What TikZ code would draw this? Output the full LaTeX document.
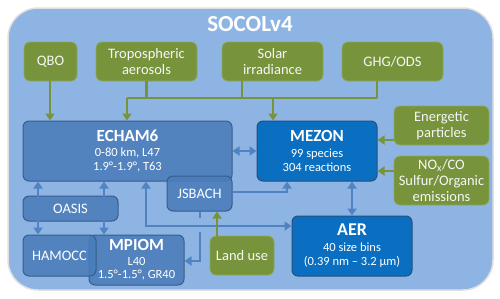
\documentclass[tikz,border=0pt]{standalone}
\usepackage{fontspec}
\setmainfont{Carlito}
\usetikzlibrary{arrows.meta}
\definecolor{bgblue}{HTML}{8EB4E3}
\definecolor{midblue}{HTML}{4A7DBB}
\definecolor{midborder}{HTML}{385D8A}
\definecolor{deepblue}{HTML}{0A6FC0}
\definecolor{deepborder}{HTML}{24507E}
\definecolor{ogreen}{HTML}{77933C}
\definecolor{gborder}{HTML}{8DA958}
\definecolor{arrowblue}{HTML}{4F83C2}
\newcommand\grtxt{\fontsize{14.5}{16}\selectfont}
\newcommand\smtxt{\fontsize{12.5}{14.5}\selectfont}
\newcommand\tttxt{\fontsize{17}{15}\selectfont\bfseries}
\begin{document}
\begin{tikzpicture}[x=1pt,y=-1pt,
  box/.style={rounded corners=6pt, inner sep=0pt, align=center, text=white},
  gbox/.style={box, fill=ogreen, draw=gborder, line width=0.8pt, text=white!94!gray, font=\grtxt},
  mbox/.style={box, fill=midblue, fill opacity=0.88, text opacity=1, draw=midborder, line width=1pt, font=\smtxt},
  dbox/.style={box, fill=deepblue, draw=deepborder, line width=1pt, font=\smtxt},
  gline/.style={draw=ogreen, line width=2.6pt},
  garrow/.style={gline, -{Triangle[width=9pt,length=7pt]}},
  bline/.style={draw=arrowblue, line width=2.6pt},
  barrow/.style={bline, -{Triangle[width=9pt,length=7pt]}},
  bdarrow/.style={bline, {Triangle[width=9pt,length=7pt]}-{Triangle[width=9pt,length=7pt]}}
]
\useasboundingbox (0,0) rectangle (500,298);
% background
\draw[draw=black!12, line width=1.5pt, fill=bgblue, rounded corners=30pt] (8,8) rectangle (493,290);
\node[font=\fontsize{23}{25}\selectfont\bfseries, text=white] (title) at (250,24) {SOCOLv4};

% green boxes
\node[gbox, minimum width=53pt, minimum height=39pt] (qbo) at (50.5,61.5) {QBO};
\node[gbox, minimum width=101pt, minimum height=39pt] (trop) at (146.5,61.5) {Tropospheric\\aerosols};
\node[gbox, minimum width=101pt, minimum height=39pt] (solar) at (272.5,61.5) {Solar\\irradiance};
\node[gbox, minimum width=101pt, minimum height=39pt] (ghg) at (392.5,61.5) {GHG/ODS};
\node[gbox, minimum width=95pt, minimum height=39pt] (energ) at (441.5,125.5) {Energetic\\particles};
\node[gbox, minimum width=95pt, minimum height=49pt] (nox) at (441.5,180.5) {NO\textsubscript{x}/CO\\Sulfur/Organic\\emissions};
\node[gbox, minimum width=64pt, minimum height=39pt] (land) at (242,255.5) {Land use};

% blue boxes
\node[mbox, minimum width=209pt, minimum height=60pt] (echam) at (127.5,151) {{\tttxt ECHAM6}\\0-80 km, L47\\1.9°-1.9°, T63};
\node[dbox, minimum width=120pt, minimum height=60pt] (mezon) at (317,151) {{\tttxt MEZON}\\[1pt]99 species\\304 reactions};
\node[dbox, minimum width=120pt, minimum height=60pt] (aer) at (352,246) {{\fontsize{18}{15}\selectfont\bfseries AER}\\[1pt]40 size bins\\(0.39 nm – 3.2 µm)};
\node[mbox, minimum width=95pt, minimum height=50pt, font=\fontsize{12.5}{13}\selectfont] (mpiom) at (136.5,260) {{\tttxt MPIOM}\\[2pt]L40\\1.5°-1.5°, GR40};
\node[mbox, minimum width=73pt, minimum height=41pt, font=\grtxt] (hamocc) at (59.5,255.5) {HAMOCC};
\node[mbox, minimum width=65pt, minimum height=35pt, font=\grtxt] (jsbach) at (199.5,193.5) {JSBACH};
\node[mbox, minimum width=95pt, minimum height=25pt, font=\grtxt] (oasis) at (70.5,208.5) {OASIS};

% green connectors
\coordinate (busL) at (127,98);
\coordinate (busS) at (242,98);
\coordinate (busM) at (273,98);
\coordinate (busR) at (377,98);
\draw[gline] (busL) -- (busR);
\draw[gline] (trop.south) -- (trop.south |- busL);
\draw[gline] (solar.south -| busS) -- (busS);
\draw[gline] (ghg.south -| busR) -- (busR);
\draw[garrow] (busL) -- (busL |- echam.north);
\draw[garrow] (busM) -- (busM |- mezon.north);
\draw[garrow] (qbo.south -| 50,0) -- (echam.north -| 50,0);
\coordinate (ep) at (0,140);
\coordinate (np) at (0,171);
\draw[garrow] (energ.west |- ep) -- (mezon.east |- ep);
\draw[garrow] (nox.west |- np) -- (mezon.east |- np);

% blue connectors
\coordinate (xa) at (38,0);
\coordinate (xb) at (104,0);
\draw[bdarrow] (echam.south -| xa) -- (hamocc.north -| xa);
\draw[bdarrow] (echam.south -| xb) -- (mpiom.north -| xb);
\draw[bdarrow] (echam.east) -- (mezon.west);
\coordinate (xm) at (287,0);
\draw[barrow] (jsbach.east |- 0,192) -| (mezon.south -| xm);
\draw[bdarrow] (mezon.south -| aer.north) -- (aer.north);
\coordinate (xj) at (200,0);
\coordinate (yj) at (0,261);
\draw[barrow] (jsbach.south -| xj) |- (mpiom.east |- yj);
\fill[bgblue] (196,218) rectangle (204,232);
\coordinate (xe) at (146,0);
\coordinate (ye) at (0,226);
\draw[bdarrow] (echam.south -| xe) |- (aer.west |- ye);
\coordinate (xl) at (217,0);
\draw[garrow] (land.north -| xl) -- (jsbach.south -| xl);
\end{tikzpicture}
\end{document}
